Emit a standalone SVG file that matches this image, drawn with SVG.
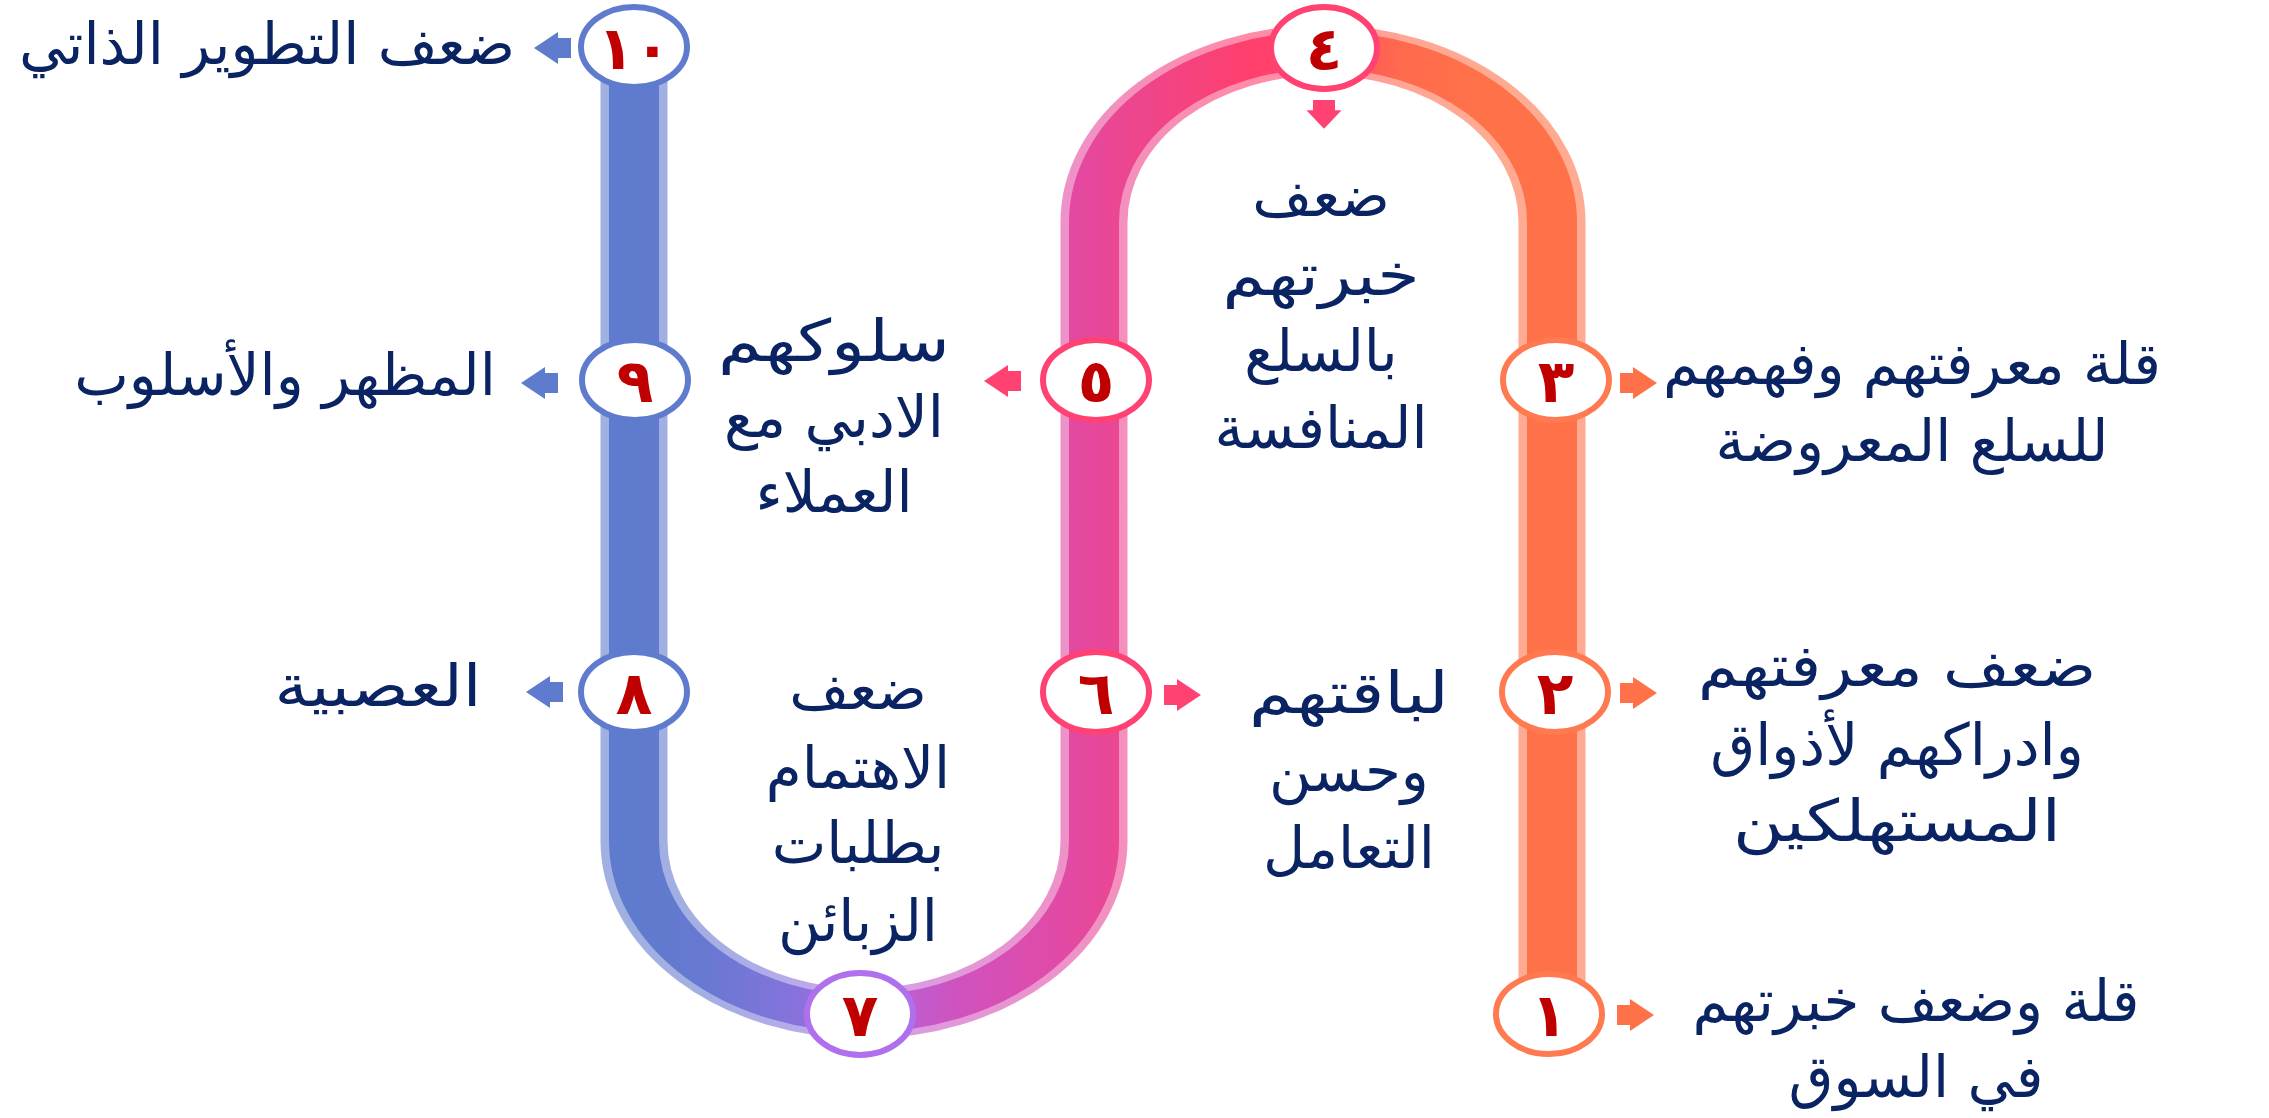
<svg xmlns="http://www.w3.org/2000/svg" width="2269" height="1118" viewBox="0 0 2269 1118">
<style>
.lbl{font-family:"DejaVu Sans","Noto Sans",sans-serif;font-size:58px;fill:#0A2463;text-anchor:middle;direction:rtl}
.num{font-family:"DejaVu Sans","Noto Sans",sans-serif;font-size:60px;font-weight:bold;fill:#C00000;text-anchor:middle}
.nd{fill:#FFFFFF;stroke-width:6}
.b{stroke:#5F7BCD}.p{stroke:#FF4272}.o{stroke:#FF7A50}.v{stroke:#B070EE}
.ab{fill:#5F7BCD}.ap{fill:#FF4272}.ao{fill:#FF7249}
</style>
<defs>
<linearGradient id="g" gradientUnits="userSpaceOnUse" x1="634" y1="0" x2="1552" y2="0">
<stop offset="0" stop-color="#5F7BCD"/>
<stop offset="0.072" stop-color="#6679D0"/>
<stop offset="0.16" stop-color="#8074DA"/>
<stop offset="0.25" stop-color="#AE68E0"/>
<stop offset="0.355" stop-color="#D052BE"/>
<stop offset="0.464" stop-color="#E14AA6"/>
<stop offset="0.537" stop-color="#EC4690"/>
<stop offset="0.671" stop-color="#FF3F6D"/>
<stop offset="0.752" stop-color="#FF4866"/>
<stop offset="0.834" stop-color="#FF6A4E"/>
<stop offset="0.92" stop-color="#FF7249"/>
<stop offset="1" stop-color="#FF7249"/>
</linearGradient>
<path id="arr" d="M0,-10 H13 V-16 L37,0 L13,16 V10 H0 Z"/>
</defs>
<g id="connectors">
<g id="track" transform="scale(1,0.75)" fill="none">
<path d="M1552,1352 L1552,296 A229,229 0 0 0 1094,296 L1094,1121.3 A230,230 0 0 1 634,1121.3 L634,62.7" stroke="url(#g)" stroke-width="67" opacity="0.6"/>
<path d="M1552,1352 L1552,296 A229,229 0 0 0 1094,296 L1094,1121.3 A230,230 0 0 1 634,1121.3 L634,62.7" stroke="url(#g)" stroke-width="50"/>
</g>
<use href="#arr" class="ab" transform="translate(571,48) scale(-1,1)"/>
<use href="#arr" class="ab" transform="translate(558,383) scale(-1,1)"/>
<use href="#arr" class="ab" transform="translate(563,692) scale(-1,1)"/>
<use href="#arr" class="ap" transform="translate(1021,381) scale(-1,1)"/>
<use href="#arr" class="ap" transform="translate(1324,100) rotate(90) scale(0.78,1.1)"/>
<use href="#arr" class="ap" transform="translate(1164,695)"/>
<use href="#arr" class="ao" transform="translate(1620,383)"/>
<use href="#arr" class="ao" transform="translate(1620,693)"/>
<use href="#arr" class="ao" transform="translate(1617,1015)"/>
</g>
<g id="node-1"><ellipse class="nd o" cx="1549" cy="1014" rx="53" ry="40"/><text class="num" x="1549" y="1036">١</text>
<text class="lbl" x="1916" y="1021">قلة وضعف خبرتهم</text><text class="lbl" x="1916" y="1097">في السوق</text></g>
<g id="node-2"><ellipse class="nd o" cx="1555" cy="692" rx="53" ry="40"/><text class="num" x="1555" y="714">٢</text>
<text class="lbl" x="1897" y="686" textLength="398" lengthAdjust="spacingAndGlyphs">ضعف معرفتهم</text><text class="lbl" x="1897" y="765">وادراكهم لأذواق</text><text class="lbl" x="1897" y="841" textLength="328" lengthAdjust="spacingAndGlyphs">المستهلكين</text></g>
<g id="node-3"><ellipse class="nd o" cx="1556" cy="380" rx="53" ry="40"/><text class="num" x="1556" y="402">٣</text>
<text class="lbl" x="1912" y="384">قلة معرفتهم وفهمهم</text><text class="lbl" x="1912" y="461">للسلع المعروضة</text></g>
<g id="node-4"><ellipse class="nd p" cx="1324" cy="48" rx="53" ry="41"/><text class="num" x="1324" y="70">٤</text>
<text class="lbl" x="1321" y="216">ضعف</text><text class="lbl" x="1321" y="295" textLength="197" lengthAdjust="spacingAndGlyphs">خبرتهم</text><text class="lbl" x="1321" y="371">بالسلع</text><text class="lbl" x="1321" y="448">المنافسة</text></g>
<g id="node-5"><ellipse class="nd p" cx="1096" cy="380" rx="53" ry="40"/><text class="num" x="1096" y="402">٥</text>
<text class="lbl" x="834" y="361" textLength="232" lengthAdjust="spacingAndGlyphs">سلوكهم</text><text class="lbl" x="834" y="437">الادبي مع</text><text class="lbl" x="834" y="512">العملاء</text></g>
<g id="node-6"><ellipse class="nd p" cx="1096" cy="692" rx="53" ry="40"/><text class="num" x="1096" y="714">٦</text>
<text class="lbl" x="1349" y="713" textLength="200" lengthAdjust="spacingAndGlyphs">لباقتهم</text><text class="lbl" x="1349" y="791">وحسن</text><text class="lbl" x="1349" y="868">التعامل</text></g>
<g id="node-7"><ellipse class="nd v" cx="860" cy="1014" rx="53" ry="41"/><text class="num" x="860" y="1036">٧</text>
<text class="lbl" x="858" y="709">ضعف</text><text class="lbl" x="858" y="788">الاهتمام</text><text class="lbl" x="858" y="863">بطلبات</text><text class="lbl" x="858" y="941">الزبائن</text></g>
<g id="node-8"><ellipse class="nd b" cx="634" cy="692" rx="53" ry="40"/><text class="num" x="634" y="714">٨</text>
<text class="lbl" x="378" y="706" textLength="207" lengthAdjust="spacingAndGlyphs">العصبية</text></g>
<g id="node-9"><ellipse class="nd b" cx="635" cy="380" rx="53" ry="40"/><text class="num" x="635" y="402">٩</text>
<text class="lbl" x="285" y="395">المظهر والأسلوب</text></g>
<g id="node-10"><ellipse class="nd b" cx="634" cy="47" rx="53" ry="40"/><text class="num" x="634" y="69">١٠</text>
<text class="lbl" x="267" y="64">ضعف التطوير الذاتي</text></g>
</svg>
